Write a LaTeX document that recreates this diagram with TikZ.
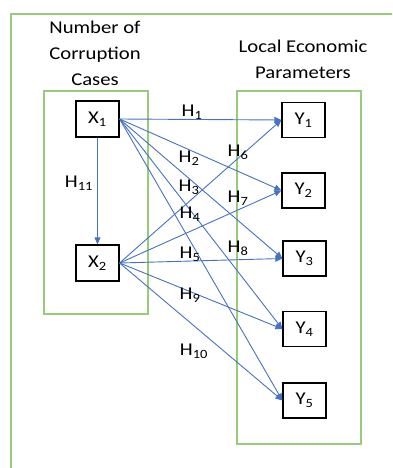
\documentclass[tikz,border=0pt]{standalone}
\usepackage{fontspec}
\setmainfont{Carlito}[FakeStretch=1.15]
\usetikzlibrary{arrows.meta}
\definecolor{verde}{RGB}{152,204,122}
\definecolor{azul}{RGB}{68,114,196}

\begin{document}
\begin{tikzpicture}[x=1pt,y=-1pt,
    caja/.style={draw, line width=1.2pt, minimum width=43pt, minimum height=36pt,
      inner sep=0pt, font=\fontsize{18}{18}\selectfont},
    flecha/.style={azul, line width=0.9pt, -{Triangle[length=7pt,width=6pt]}},
    etiqueta/.style={inner sep=0pt, font=\fontsize{18}{18}\selectfont},
    titulo/.style={align=center, inner sep=0pt, font=\fontsize{18}{26}\selectfont},
    grupo/.style={verde, line width=1.6pt}]
    \useasboundingbox (0,0) rectangle (392,468);
    \clip (0,0) rectangle (392,468);

    % Dibuja los marcos
    \draw[grupo] (11,14) rectangle (420,500);
    \draw[grupo] (44,91) rectangle (148,314);
    \draw[grupo] (237,91) rectangle (361,444);

    % Dibuja los titulos
    \node[titulo] (tx) at (95,53) {Number of\\Corruption\\Cases};
    \node[titulo] (ty) at (303,59) {Local Economic\\Parameters};

    % Define las variables
    \node[caja] (x1) at (97.5,119) {X\textsubscript{1}};
    \node[caja] (x2) at (97.5,263) {X\textsubscript{2}};
    \node[caja, minimum height=35pt] (y1) at (303.5,120) {Y\textsubscript{1}};
    \node[caja, minimum height=35pt] (y2) at (303.5,190.5) {Y\textsubscript{2}};
    \node[caja, minimum height=35pt] (y3) at (304.5,258.5) {Y\textsubscript{3}};
    \node[caja, minimum height=35pt] (y4) at (304.5,329) {Y\textsubscript{4}};
    \node[caja, minimum height=35pt] (y5) at (304.5,400.5) {Y\textsubscript{5}};

    % Dibuja las flechas
    \draw[flecha] (x1.south) -- (x2.north);
    \draw[flecha] (x1.east) -- (y1.west);
    \draw[flecha] (x1.east) -- (y2.west);
    \draw[flecha] (x1.east) -- (y3.west);
    \draw[flecha] (x1.east) -- (y4.west);
    \draw[flecha] (x1.east) -- (y5.west);
    \draw[flecha] (x2.east) -- (y1.west);
    \draw[flecha] (x2.east) -- (y2.west);
    \draw[flecha] (x2.east) -- (y3.west);
    \draw[flecha] (x2.east) -- (y4.west);
    \draw[flecha] (x2.east) -- (y5.west);

    % Dibuja las hipotesis
    \node[etiqueta] (h1) at (192,112) {H\textsubscript{1}};
    \node[etiqueta] (h2) at (189,158) {H\textsubscript{2}};
    \node[etiqueta] (h3) at (189,187) {H\textsubscript{3}};
    \node[etiqueta] (h4) at (190,214) {H\textsubscript{4}};
    \node[etiqueta] (h5) at (190,254) {H\textsubscript{5}};
    \node[etiqueta] (h6) at (238,152) {H\textsubscript{6}};
    \node[etiqueta] (h7) at (238,198) {H\textsubscript{7}};
    \node[etiqueta] (h8) at (238,248) {H\textsubscript{8}};
    \node[etiqueta] (h9) at (190,295) {H\textsubscript{9}};
    \node[etiqueta] (h10) at (194,351) {H\textsubscript{10}};
    \node[etiqueta] (h11) at (79,183) {H\textsubscript{11}};
\end{tikzpicture}
\end{document}
